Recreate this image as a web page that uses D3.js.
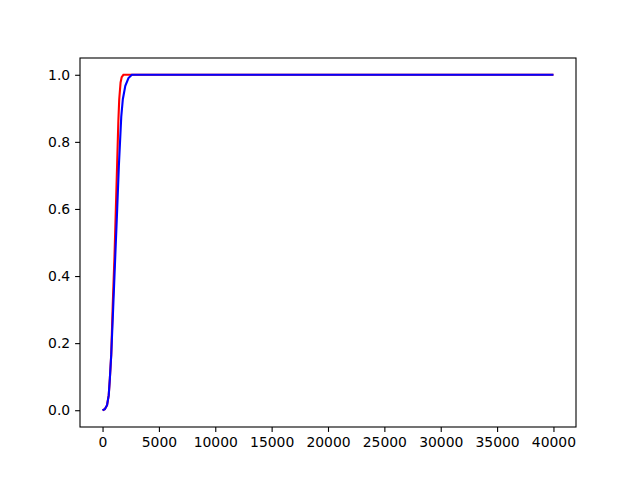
<!DOCTYPE html>
<html>
<head>
<meta charset="utf-8">
<script src="https://cdn.jsdelivr.net/npm/d3@7"></script>
<style>
  body { margin: 0; background: #fff; }
  .tick text { font-family: "DejaVu Sans", sans-serif; font-size: 13.9px; fill: #000; }
</style>
</head>
<body>
<div id="chart"></div>
<script>
// red curve (x, cumulative share)
var redX = [0, 200, 400, 550, 650, 770, 900, 1060, 1180, 1300, 1400, 1480, 1600, 1700, 1850, 40000];
var redY = [0, 0.003, 0.015, 0.045, 0.095, 0.165, 0.31, 0.46, 0.6, 0.74, 0.86, 0.927, 0.977, 0.993, 1, 1];

// blue curve
var blueX = [0, 200, 400, 550, 650, 770, 950, 1130, 1300, 1450, 1660, 1800, 2020, 2300, 2600, 40000];
var blueY = [0, 0.003, 0.015, 0.045, 0.095, 0.165, 0.31, 0.46, 0.6, 0.73, 0.875, 0.927, 0.967, 0.99, 1, 1];

var xTicks = [0, 5000, 10000, 15000, 20000, 25000, 30000, 35000, 40000];
var yTicks = [0, 0.2, 0.4, 0.6, 0.8, 1.0];

var W = 640, H = 480;
var margin = {top: 58, right: 64, bottom: 53, left: 80};
var w = W - margin.left - margin.right,
    h = H - margin.top - margin.bottom;

var xScale = d3.scaleLinear().domain([-2000, 42000]).range([0, w]);
var yScale = d3.scaleLinear().domain([-0.05, 1.05]).range([h, 0]);

var svg = d3.select("#chart")
  .append("svg")
  .attr("width", W)
  .attr("height", H)
  .append("g")
  .attr("transform", "translate(" + margin.left + "," + margin.top + ")");

var line = d3.line()
  .x(function(d) { return xScale(d[0]); })
  .y(function(d) { return yScale(d[1]); });

var red = redX.map(function(x, i) { return [x, redY[i]]; });
var blue = blueX.map(function(x, i) { return [x, blueY[i]]; });

svg.append("path")
  .datum(red)
  .attr("d", line)
  .attr("fill", "none")
  .attr("stroke", "#ff0000")
  .attr("stroke-width", 2.1);

svg.append("path")
  .datum(blue)
  .attr("d", line)
  .attr("fill", "none")
  .attr("stroke", "#0000ff")
  .attr("stroke-width", 2.1);

// axes
var xAxis = svg.append("g")
  .attr("transform", "translate(0," + h + ")")
  .call(d3.axisBottom(xScale).tickValues(xTicks).tickFormat(d3.format("d")).tickSize(4.9).tickPadding(4.9));

var yAxis = svg.append("g")
  .call(d3.axisLeft(yScale).tickValues(yTicks).tickFormat(d3.format(".1f")).tickSize(4.9).tickPadding(4.9));

[xAxis, yAxis].forEach(function(a) {
  a.select(".domain").remove();
  a.selectAll(".tick line").attr("stroke", "#000").attr("stroke-width", 1.1);
  a.attr("font-family", null).attr("font-size", null);
});

// frame
svg.append("rect")
  .attr("x", 0)
  .attr("y", 0)
  .attr("width", w)
  .attr("height", h)
  .attr("fill", "none")
  .attr("stroke", "#000")
  .attr("stroke-width", 1.1);
</script>
</body>
</html>
